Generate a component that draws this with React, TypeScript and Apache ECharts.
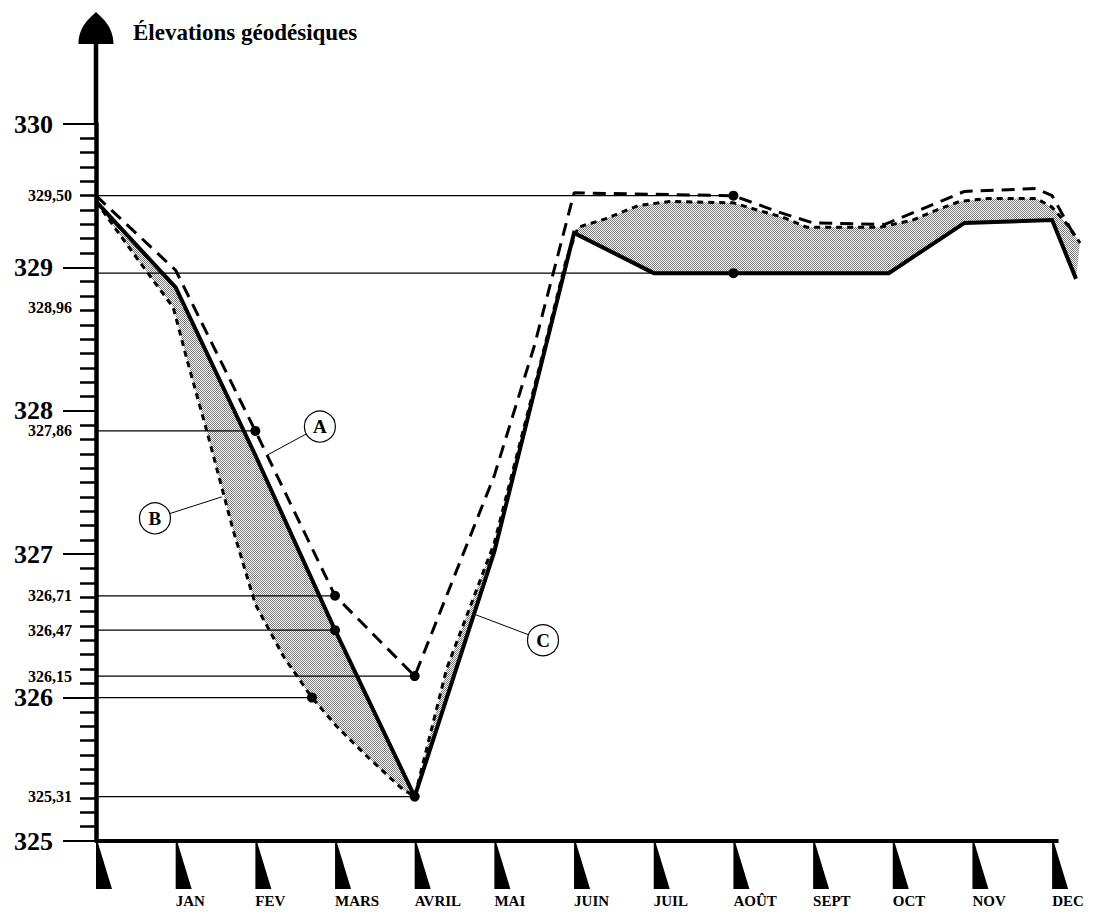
import React, { useEffect, useRef } from 'react';
import * as echarts from 'echarts';

const SERIF = '"Liberation Serif", "Times New Roman", Times, serif';

// x = month position (0 = start of year, 1 = JAN ... 12 = DEC)
const MONTH_LABELS = ['', 'JAN', 'FEV', 'MARS', 'AVRIL', 'MAI', 'JUIN', 'JUIL', 'AOÛT', 'SEPT', 'OCT', 'NOV', 'DEC'];
const MONTH_MARKS = [0, 1, 2, 3, 4, 5, 6, 7, 8, 9, 10, 11, 12];

// Curve A (long dashes)
const CURVE_A = [
  [0, 329.5], [1, 328.98], [2, 327.86], [3, 326.71], [4, 326.15], [4.45, 326.78], [5, 327.55],
  [5.5, 328.45], [6, 329.52], [7, 329.51], [8, 329.5], [8.6, 329.38], [9, 329.31], [9.9, 329.3],
  [10.9, 329.53], [11.8, 329.55], [12, 329.5], [12.28, 329.22],
];
// Curve B (short dashes)
const CURVE_B = [
  [0, 329.46], [0.4, 329.15], [0.97, 328.72], [1.15, 328.34], [1.4, 327.84], [1.72, 327.17],
  [2.0, 326.65], [2.35, 326.29], [2.71, 326.0], [3.02, 325.8], [3.44, 325.57], [3.85, 325.36],
  [4, 325.31], [4.4, 326.2], [5, 327.08], [5.6, 328.38], [5.9, 329.05], [6.05, 329.28],
  [6.4, 329.34], [6.8, 329.43], [7.2, 329.46], [8, 329.45], [8.3, 329.4], [8.62, 329.35],
  [8.92, 329.28], [9.84, 329.28], [10.25, 329.33], [10.55, 329.4], [10.84, 329.46],
  [11.18, 329.48], [11.8, 329.48], [12, 329.42], [12.22, 329.28], [12.35, 329.17],
];
// Curve C (solid)
const CURVE_C = [
  [0, 329.46], [1, 328.86], [2, 327.69], [3, 326.47], [4, 325.31], [5, 327.02],
  [6, 329.24], [7, 328.96], [8, 328.96], [9, 328.96], [9.95, 328.96], [10.9, 329.31],
  [12, 329.33], [12.3, 328.92],
];

// Readings drawn as horizontal lines from the axis to a dot
const READING_VALUES = [329.5, 328.96, 327.86, 326.71, 326.47, 326.15, 326.0, 325.31];
const READING_MONTHS = [8, 8, 2, 3, 3, 4, 2.71, 4];
const READING_LABELS = ['329,50', '328,96', '327,86', '326,71', '326,47', '326,15', '', '325,31'];

// Callouts
const CALLOUT_LETTERS = ['A', 'B', 'C'];
const CALLOUT_AT = [[2.81, 327.89], [0.74, 327.25], [5.61, 326.4]];
const CALLOUT_TO = [[2.145, 327.69], [1.58, 327.4], [4.755, 326.58]];

const ARROW_PATH = 'path://M0,32 C0,15 11,6 17.5,0 C24,6 35,15 35,32 Z';
const TRI_PATH = 'path://M0,0 L2,0 L16,46 L0,46 Z';

function makePattern(): any {
  const c = document.createElement('canvas');
  c.width = 2;
  c.height = 2;
  const ctx = c.getContext('2d');
  if (!ctx) return '#bcbcbc';
  ctx.fillStyle = '#fbfbfb';
  ctx.fillRect(0, 0, 2, 2);
  ctx.fillStyle = '#7a7a7a';
  ctx.fillRect(0, 0, 1, 1);
  ctx.fillRect(1, 1, 1, 1);
  return { image: c.toDataURL(), repeat: 'repeat', imageWidth: 2, imageHeight: 2 };
}

export default function App() {
  const ref = useRef<HTMLDivElement>(null);

  useEffect(() => {
    if (!ref.current) return;
    const chart = echarts.init(ref.current, null, { renderer: 'svg' });
    const fill = makePattern();

    const refLines = READING_VALUES.map((v, i) => {
      const start = i === 1 ? [[-0.6, 328.81], [-0.326, v]] : [[0, v]];
      return {
        type: 'line',
        data: [...start, [READING_MONTHS[i], v]],
        symbol: 'none',
        lineStyle: { color: '#000', width: 1.3 },
        clip: false,
        z: 3,
        silent: true,
      };
    });

    const leaders = CALLOUT_AT.map((p, i) => ({
      type: 'line',
      data: [p, CALLOUT_TO[i]],
      symbol: 'none',
      lineStyle: { color: '#000', width: 1 },
      clip: false,
      z: 18,
      silent: true,
    }));

    const option: any = {
      animation: false,
      backgroundColor: '#fff',
      title: {
        text: 'Élevations géodésiques',
        left: 128,
        top: 16,
        textStyle: { fontFamily: SERIF, fontSize: 23, fontWeight: 'bold', color: '#000' },
      },
      grid: { left: 96, right: 10, top: 124, bottom: 77, outerBoundsMode: 'none' },
      xAxis: {
        type: 'value',
        min: 0,
        max: 12.4,
        interval: 1,
        axisLine: { show: false },
        axisTick: { show: false },
        splitLine: { show: false },
        axisLabel: {
          formatter: (v: number) => MONTH_LABELS[v] ?? '',
          align: 'left',
          margin: 52,
          fontFamily: SERIF,
          fontWeight: 'bold',
          fontSize: 15,
          color: '#000',
        },
      },
      yAxis: {
        type: 'value',
        min: 325,
        max: 330,
        interval: 1,
        axisLine: { show: true, lineStyle: { color: '#000', width: 4.5 } },
        axisTick: { show: true, length: 33, lineStyle: { color: '#000', width: 2 } },
        minorTick: { show: true, splitNumber: 10, length: 16, lineStyle: { color: '#000', width: 2.5 } },
        splitLine: { show: false },
        axisLabel: {
          formatter: (v: number) => String(v),
          margin: 43,
          fontFamily: SERIF,
          fontWeight: 'bold',
          fontSize: 26,
          color: '#000',
        },
      },
      series: [
        {
          type: 'custom',
          data: [[0, 325]],
          clip: false,
          z: 1,
          silent: true,
          renderItem: (params: any, api: any) => {
            if (params.dataIndex !== 0) return null;
            const pts = [...CURVE_B, ...CURVE_C.slice().reverse()].map((p) => api.coord(p));
            return { type: 'polygon', shape: { points: pts }, style: { fill, stroke: 'none' } };
          },
        },
        ...refLines,
        {
          type: 'line',
          data: [[0, 325], [MONTH_MARKS[MONTH_MARKS.length - 1] + 0.08, 325]],
          symbol: 'none',
          lineStyle: { color: '#000', width: 4 },
          clip: false,
          z: 6,
          silent: true,
        },
        {
          type: 'line',
          data: CURVE_C,
          symbol: 'none',
          lineStyle: { color: '#000', width: 4, join: 'miter' },
          clip: false,
          z: 5,
        },
        {
          type: 'line',
          data: CURVE_A,
          symbol: 'none',
          lineStyle: { color: '#000', width: 3, type: [13, 8] },
          clip: false,
          z: 5,
        },
        {
          type: 'line',
          data: CURVE_B,
          symbol: 'none',
          lineStyle: { color: '#000', width: 3, type: [6, 5] },
          clip: false,
          z: 5,
        },
        {
          type: 'scatter',
          data: READING_VALUES.map((v, i) => [READING_MONTHS[i], v]),
          symbol: 'circle',
          symbolSize: 10,
          itemStyle: { color: '#000', opacity: 1 },
          clip: false,
          z: 8,
        },
        {
          type: 'scatter',
          data: READING_VALUES.map((v, i) => ({
            value: [0, v],
            label: i === 1 ? { offset: [0, 34] } : undefined,
          })),
          symbolSize: 0,
          itemStyle: { opacity: 1 },
          clip: false,
          z: 8,
          label: {
            show: true,
            position: 'left',
            distance: 24,
            formatter: (p: any) => READING_LABELS[p.dataIndex],
            fontFamily: SERIF,
            fontWeight: 'bold',
            fontSize: 16,
            color: '#000',
            opacity: 1,
          },
        },
        {
          type: 'scatter',
          data: MONTH_MARKS.map((m) => [m, 325]),
          symbol: TRI_PATH,
          symbolSize: [16, 46],
          symbolOffset: [8, 25],
          itemStyle: { color: '#000', opacity: 1 },
          clip: false,
          z: 6,
        },
        {
          type: 'line',
          data: [[0, 330], [0, 330.62], { value: [0, 330.67], symbol: ARROW_PATH, symbolSize: [35, 32] }],
          symbol: 'none',
          showSymbol: true,
          showAllSymbol: true,
          itemStyle: { color: '#000', opacity: 1 },
          lineStyle: { color: '#000', width: 4.5 },
          clip: false,
          z: 6,
        },
        ...leaders,
        {
          type: 'scatter',
          data: CALLOUT_AT,
          symbol: 'circle',
          symbolSize: 31,
          itemStyle: { color: '#fff', borderColor: '#000', borderWidth: 1.2, opacity: 1 },
          clip: false,
          z: 20,
          label: {
            show: true,
            position: 'inside',
            formatter: (p: any) => CALLOUT_LETTERS[p.dataIndex],
            fontFamily: SERIF,
            fontWeight: 'bold',
            fontSize: 19,
            color: '#000',
          },
        },
      ],
    };

    chart.setOption(option);
    return () => chart.dispose();
  }, []);

  return (
    <div
      ref={ref}
      style={{ position: 'fixed', left: 0, top: 0, width: 1094, height: 918, background: '#fff' }}
    />
  );
}
